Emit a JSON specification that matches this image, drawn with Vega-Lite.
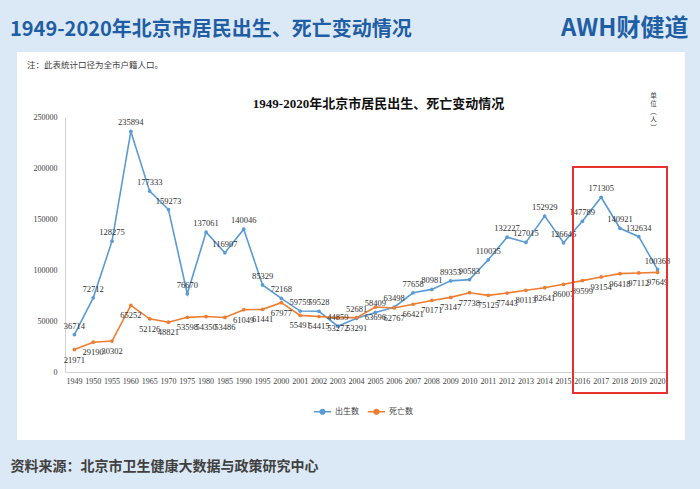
{
  "$schema": "https://vega.github.io/schema/vega-lite/v6.json",
  "width": 668,
  "height": 388,
  "autosize": {"type": "none"},
  "padding": {"left": 17, "top": 52, "right": 15, "bottom": 49},
  "background": "#dbe8f5",
  "title": {
    "text": "1949-2020年北京市居民出生、死亡变动情况",
    "subtitle": "\u200b\u3000\u3000注：此表统计口径为全市户籍人口。",
    "anchor": "start",
    "frame": "group",
    "dx": -7,
    "offset": -53,
    "font": "Noto Sans CJK SC",
    "fontSize": 20,
    "fontWeight": "bold",
    "color": "#1f5ea4",
    "subtitleFont": "Noto Sans CJK SC",
    "subtitleFontSize": 8.5,
    "subtitleColor": "#404040",
    "subtitlePadding": 21
  },
  "datasets": {
    "d": [
      {"year": "1949", "series": "出生数", "value": 36714},
      {"year": "1950", "series": "出生数", "value": 72712},
      {"year": "1955", "series": "出生数", "value": 128275},
      {"year": "1960", "series": "出生数", "value": 235894},
      {"year": "1965", "series": "出生数", "value": 177333},
      {"year": "1970", "series": "出生数", "value": 159273},
      {"year": "1975", "series": "出生数", "value": 76670},
      {"year": "1980", "series": "出生数", "value": 137061},
      {"year": "1985", "series": "出生数", "value": 116907},
      {"year": "1990", "series": "出生数", "value": 140046},
      {"year": "1995", "series": "出生数", "value": 85329},
      {"year": "2000", "series": "出生数", "value": 72168},
      {"year": "2001", "series": "出生数", "value": 59759},
      {"year": "2002", "series": "出生数", "value": 59528},
      {"year": "2003", "series": "出生数", "value": 44859},
      {"year": "2004", "series": "出生数", "value": 52681},
      {"year": "2005", "series": "出生数", "value": 58409},
      {"year": "2006", "series": "出生数", "value": 63498},
      {"year": "2007", "series": "出生数", "value": 77658},
      {"year": "2008", "series": "出生数", "value": 80981},
      {"year": "2009", "series": "出生数", "value": 89353},
      {"year": "2010", "series": "出生数", "value": 90583},
      {"year": "2011", "series": "出生数", "value": 110035},
      {"year": "2012", "series": "出生数", "value": 132227},
      {"year": "2013", "series": "出生数", "value": 127015},
      {"year": "2014", "series": "出生数", "value": 152929},
      {"year": "2015", "series": "出生数", "value": 126645},
      {"year": "2016", "series": "出生数", "value": 147789},
      {"year": "2017", "series": "出生数", "value": 171305},
      {"year": "2018", "series": "出生数", "value": 140921},
      {"year": "2019", "series": "出生数", "value": 132634},
      {"year": "2020", "series": "出生数", "value": 100368},
      {"year": "1949", "series": "死亡数", "value": 21971},
      {"year": "1950", "series": "死亡数", "value": 29190},
      {"year": "1955", "series": "死亡数", "value": 30302},
      {"year": "1960", "series": "死亡数", "value": 65252},
      {"year": "1965", "series": "死亡数", "value": 52126},
      {"year": "1970", "series": "死亡数", "value": 48821},
      {"year": "1975", "series": "死亡数", "value": 53598},
      {"year": "1980", "series": "死亡数", "value": 54350},
      {"year": "1985", "series": "死亡数", "value": 53486},
      {"year": "1990", "series": "死亡数", "value": 61049},
      {"year": "1995", "series": "死亡数", "value": 61441},
      {"year": "2000", "series": "死亡数", "value": 67977},
      {"year": "2001", "series": "死亡数", "value": 55491},
      {"year": "2002", "series": "死亡数", "value": 54415},
      {"year": "2003", "series": "死亡数", "value": 53272},
      {"year": "2004", "series": "死亡数", "value": 53291},
      {"year": "2005", "series": "死亡数", "value": 63696},
      {"year": "2006", "series": "死亡数", "value": 62767},
      {"year": "2007", "series": "死亡数", "value": 66421},
      {"year": "2008", "series": "死亡数", "value": 70171},
      {"year": "2009", "series": "死亡数", "value": 73147},
      {"year": "2010", "series": "死亡数", "value": 77738},
      {"year": "2011", "series": "死亡数", "value": 75125},
      {"year": "2012", "series": "死亡数", "value": 77443},
      {"year": "2013", "series": "死亡数", "value": 80113},
      {"year": "2014", "series": "死亡数", "value": 82641},
      {"year": "2015", "series": "死亡数", "value": 86007},
      {"year": "2016", "series": "死亡数", "value": 89599},
      {"year": "2017", "series": "死亡数", "value": 93154},
      {"year": "2018", "series": "死亡数", "value": 96418},
      {"year": "2019", "series": "死亡数", "value": 97112},
      {"year": "2020", "series": "死亡数", "value": 97649}
    ]
  },
  "data": {"name": "d"},
  "resolve": {"axis": {"x": "independent", "y": "independent"}},
  "layer": [
    {
      "mark": {"type": "line", "strokeWidth": 1.6, "point": {"filled": true, "size": 14}},
      "encoding": {
        "x": {
          "field": "year", "type": "ordinal", "bandPosition": 0.5,
          "scale": {"type": "band", "paddingInner": 0, "paddingOuter": 0, "range": [48, 650]},
          "axis": {
            "orient": "bottom", "offset": -68,
            "labelAngle": 0, "labelFont": "Liberation Serif", "labelFontSize": 8, "labelColor": "#404040",
            "labelPadding": 5, "ticks": false, "domainColor": "#d0d0d0", "grid": false,
            "title": "资料来源：北京市卫生健康大数据与政策研究中心",
            "titleFont": "Noto Sans CJK SC", "titleFontSize": 14, "titleFontWeight": "bold", "titleColor": "#404040",
            "titleAnchor": null, "titleAlign": "left", "titleBaseline": "middle", "titleX": -7, "titleY": 94
          }
        },
        "y": {
          "field": "value", "type": "quantitative",
          "scale": {"domain": [0, 250000], "nice": false, "zero": true, "range": [320, 65]},
          "axis": {
            "orient": "left", "offset": -48, "values": [0, 50000, 100000, 150000, 200000, 250000], "format": "d",
            "labelFont": "Liberation Serif", "labelFontSize": 8, "labelColor": "#404040", "labelPadding": 8,
            "ticks": false, "grid": false, "domainColor": "#d0d0d0",
            "title": ["单", "位", "︵", "人", "︶"],
            "titleFont": "Noto Sans CJK SC", "titleFontSize": 6.5, "titleFontWeight": "normal", "titleColor": "#404040",
            "titleAngle": 0, "titleAnchor": null, "titleAlign": "center", "titleBaseline": "top", "titleLineHeight": 8,
            "titleX": 588, "titleY": 40
          }
        },
        "color": {
          "field": "series", "type": "nominal",
          "scale": {"domain": ["出生数", "死亡数"], "range": ["#5b9bd5", "#ed7d31"]},
          "legend": {
            "orient": "none", "legendX": 296, "legendY": 350, "direction": "horizontal", "title": null,
            "symbolType": "M-1,0H1M-0.28,0A0.28,0.28 0 1,1 0.28,0A0.28,0.28 0 1,1 -0.28,0Z",
            "symbolSize": 300, "symbolStrokeWidth": 1.3,
            "labelFont": "Noto Sans CJK SC", "labelFontSize": 8, "labelColor": "#404040", "labelOffset": 3,
            "columnPadding": 6,
            "encode": {"symbols": {"update": {"fill": {"scale": "color", "field": "value"}, "stroke": {"scale": "color", "field": "value"}}}}
          }
        }
      }
    },
    {
      "transform": [{"filter": "datum.series === '出生数'"}],
      "mark": {"type": "text", "dy": -9, "font": "Liberation Serif", "fontSize": 8.5, "color": "#303030"},
      "encoding": {
        "x": {"field": "year", "type": "ordinal", "bandPosition": 0.5, "axis": null},
        "y": {"field": "value", "type": "quantitative", "axis": null},
        "text": {"field": "value", "type": "quantitative", "format": "d"}
      }
    },
    {
      "transform": [{"filter": "datum.series === '死亡数'"}],
      "mark": {"type": "text", "dy": 10, "font": "Liberation Serif", "fontSize": 8.5, "color": "#303030"},
      "encoding": {
        "x": {"field": "year", "type": "ordinal", "bandPosition": 0.5, "axis": null},
        "y": {"field": "value", "type": "quantitative", "axis": null},
        "text": {"field": "value", "type": "quantitative", "format": "d"}
      }
    },
    {
      "mark": {"type": "rect", "filled": false, "stroke": "#e8312f", "strokeWidth": 1.8},
      "encoding": {
        "x": {
          "datum": "2016", "type": "ordinal", "bandPosition": 0,
          "axis": {
            "orient": "top", "offset": 0, "labels": false, "ticks": false, "domain": false, "grid": false,
            "title": "1949-2020年北京市居民出生、死亡变动情况",
            "titleFont": "Liberation Serif, Noto Sans CJK SC", "titleFontSize": 13, "titleFontWeight": "bold", "titleColor": "#111111",
            "titleAnchor": null, "titleAlign": "center", "titleBaseline": "middle", "titleX": 361, "titleY": 51
          }
        },
        "x2": {"datum": "2020", "bandPosition": 1},
        "y": {
          "datum": 201000, "type": "quantitative",
          "axis": {
            "orient": "right", "offset": 0, "labels": false, "ticks": false, "domain": false, "grid": false,
            "title": "AWH财健道",
            "titleFont": "Noto Sans CJK SC", "titleFontSize": 24, "titleFontWeight": "bold", "titleColor": "#1f5ea4",
            "titleAngle": 0, "titleAnchor": null, "titleAlign": "right", "titleBaseline": "middle", "titleX": 3, "titleY": -24
          }
        },
        "y2": {"datum": -20600}
      }
    }
  ],
  "config": {
    "view": {"fill": "white", "stroke": null}
  }
}
